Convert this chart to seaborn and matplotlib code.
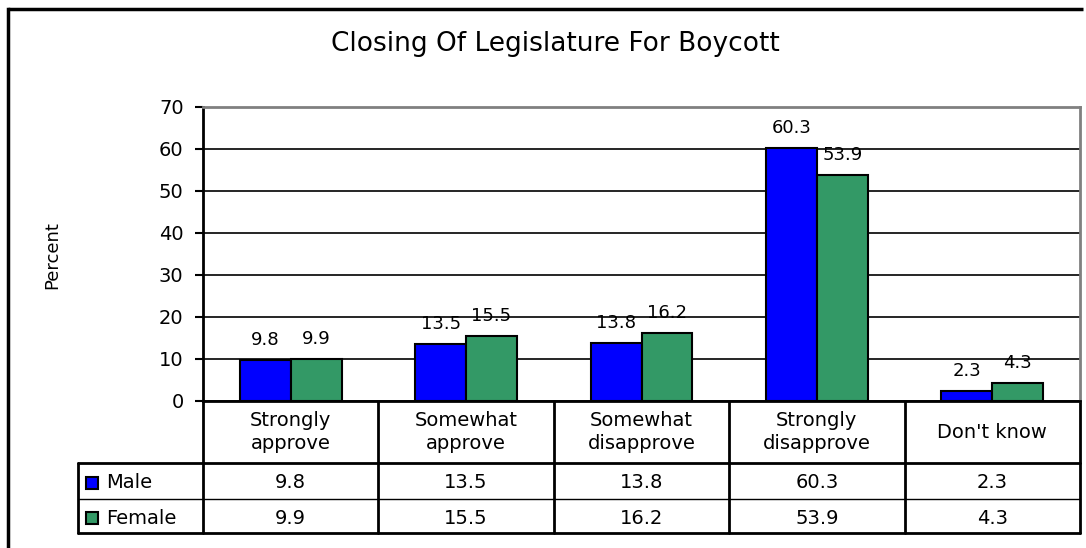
import matplotlib
matplotlib.use("Agg")
import numpy as np
import pandas as pd
import matplotlib.pyplot as plt
import seaborn as sns
from matplotlib.patches import Rectangle
from matplotlib.transforms import blended_transform_factory

# data
categories = ["Strongly\napprove", "Somewhat\napprove", "Somewhat\ndisapprove",
              "Strongly\ndisapprove", "Don't know"]
male = [9.8, 13.5, 13.8, 60.3, 2.3]
female = [9.9, 15.5, 16.2, 53.9, 4.3]
series = ["Male", "Female"]
colors = ["#0000FF", "#339966"]

df = pd.DataFrame({
    "Response": categories * 2,
    "Percent": male + female,
    "Gender": ["Male"] * len(male) + ["Female"] * len(female),
})

sns.set_style("white")
plt.rcParams["font.family"] = ["DejaVu Sans"]
plt.rcParams["text.color"] = "black"
plt.rcParams["ytick.color"] = "black"

W, H = 1086, 548
fig = plt.figure(figsize=(W / 100, H / 100), dpi=100)

# pixel-coordinate overlay for frame and table
bg = fig.add_axes([0, 0, 1, 1])
bg.set_xlim(0, W)
bg.set_ylim(H, 0)
bg.axis("off")

ax = fig.add_axes([203 / W, 1 - 401 / H, (1080 - 203) / W, (401 - 107) / H])
sns.barplot(data=df, x="Response", y="Percent", hue="Gender", palette=colors,
            saturation=1, width=0.58, edgecolor="black", linewidth=1.5,
            ax=ax, legend=False)

ax.set_xlim(-0.5, len(categories) - 0.5)
ax.set_ylim(0, 70)
ax.set_yticks(range(0, 71, 10))
ax.yaxis.grid(True, color="black", lw=1.2)
ax.set_axisbelow(True)
ax.set_xticks([])
ax.set_xlabel("")
ax.set_ylabel("")
ax.tick_params(axis="y", left=True, length=6, width=1.5, pad=8, labelsize=14, colors="black")
for s in ["top", "right"]:
    ax.spines[s].set_color("#808080")
    ax.spines[s].set_linewidth(2)
for s in ["left", "bottom"]:
    ax.spines[s].set_color("black")
    ax.spines[s].set_linewidth(2)

for c in ax.containers:
    ax.bar_label(c, fmt="%.1f", padding=8, fontsize=13)

fig.text(555 / W, 1 - 44 / H, "Closing Of Legislature For Boycott",
         ha="center", va="center", fontsize=19)
fig.text(52 / W, 1 - 255 / H, "Percent", rotation=90, ha="center", va="center", fontsize=13)

# outer frame (open on right and bottom)
bg.plot([8, 8], [H, 9], color="black", lw=2.5, solid_capstyle="projecting")
bg.plot([8, W - 3], [9, 9], color="black", lw=2.5, solid_capstyle="butt")

# data table under the axis
tr = blended_transform_factory(ax.transData, bg.transData)
y0, y1, y2, y3 = 401, 463, 499, 533
x_left = 78
x_right = ax.get_position().x1 * W
n = len(categories)
for b in np.arange(n + 1) - 0.5:
    bg.plot([b, b], [y0, y3], transform=tr, color="black", lw=2)
bg.plot([x_left, x_right], [y1, y1], color="black", lw=2)
bg.plot([x_left, x_right], [y2, y2], color="black", lw=1)
bg.plot([x_left, x_right], [y3, y3], color="black", lw=2)
bg.plot([x_left, x_left], [y1, y3], color="black", lw=2)

for i, cat in enumerate(categories):
    bg.text(i, (y0 + y1) / 2, cat, transform=tr, ha="center", va="center",
            fontsize=14, linespacing=1.3)

rows = [male, female]
for r, (name, vals, col) in enumerate(zip(series, rows, colors)):
    yc = [(y1 + y2) / 2, (y2 + y3) / 2][r] + 2
    bg.add_patch(Rectangle((86, yc - 6), 12, 12, facecolor=col, edgecolor="black", lw=1.5))
    bg.text(106, yc, name, ha="left", va="center", fontsize=14)
    for i, v in enumerate(vals):
        bg.text(i, yc, f"{v:.1f}", transform=tr, ha="center", va="center", fontsize=14)

fig.savefig("out.png", dpi=100)
